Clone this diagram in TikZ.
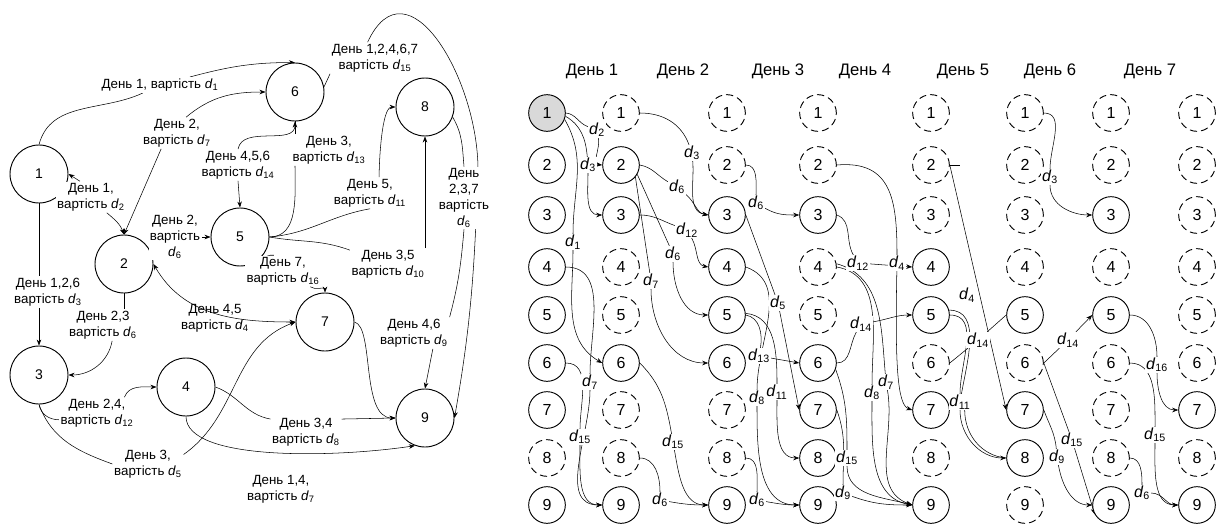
\documentclass[tikz,border=0pt]{standalone}
\usepackage{fontspec}
\setmainfont{Liberation Sans}
\usetikzlibrary{arrows.meta,backgrounds}
\newcommand\dd[1]{\textit{d}\textsubscript{#1}}
% nodes of the day graph that are drawn solid
\foreach \n in {11,12,13,14,15,16,17,19,22,23,26,29,33,34,35,36,39,43,46,47,48,49,54,55,57,59,65,67,68,73,75,79,87,89}
  {\expandafter\gdef\csname sol\n\endcsname{}}
\tikzset{
  vnode/.style={circle,draw,fill=white,minimum size=43.5pt,inner sep=0pt,font=\fontsize{10.5}{12}\selectfont},
  snode/.style={circle,draw,fill=white,minimum size=27.5pt,inner sep=0pt,font=\fontsize{12}{14}\selectfont},
  dnode/.style={snode,dash pattern=on 5pt off 3.5pt},
  pick/.code={\ifcsname sol#1\endcsname\pgfkeysalso{snode}\else\pgfkeysalso{dnode}\fi
    \ifnum#1=11 \pgfkeysalso{fill=gray!30}\fi},
  lab/.style={fill=white,align=center,inner sep=1pt,font=\fontsize{10}{12}\selectfont},
  dlab/.style={fill=white,inner sep=0.5pt,font=\fontsize{12}{14}\selectfont},
  day/.style={font=\fontsize{12.5}{14}\selectfont}
}

\begin{document}
\begin{tikzpicture}[x=0.75pt,y=0.75pt,line cap=round,line join=round,line width=0.7pt,
  >={Stealth[length=4.5pt,width=3.4pt]}]
  \useasboundingbox (0,0) rectangle (1224,-525);
  % left: graph of routes
  \node[vnode] (a1) at (39,-174) {1};
  \node[vnode] (a2) at (124,-264) {2};
  \node[vnode] (a3) at (39,-375) {3};
  \node[vnode] (a4) at (186,-387) {4};
  \node[vnode] (a5) at (240,-237) {5};
  \node[vnode] (a6) at (295,-92) {6};
  \node[vnode] (a7) at (325,-322) {7};
  \node[vnode] (a8) at (425,-107) {8};
  \node[vnode] (a9) at (425,-418) {9};
  \node[lab] (l16) at (160,-85) {День 1, вартість \dd{1}};
  \node[lab] (l26) at (177,-133) {День 2,\\вартість \dd{7}};
  \node[lab] (l12) at (91,-197) {День 1,\\вартість \dd{2}};
  \node[lab] (l13) at (48,-292) {День 1,2,6\\вартість \dd{3}};
  \node[lab] (l23) at (103,-325) {День 2,3\\вартість \dd{6}};
  \node[lab] (l25) at (175,-237) {День 2,\\вартість\\\dd{6}};
  \node[lab] (l56) at (238,-165) {День 4,5,6\\вартість \dd{14}};
  \node[lab] (l56b) at (329,-150) {День 3,\\вартість \dd{13}};
  \node[lab] (l58) at (370,-193) {День 5,\\вартість \dd{11}};
  \node[lab] (l58b) at (388,-264) {День 3,5\\вартість \dd{10}};
  \node[lab] (l57) at (283,-271) {День 7,\\вартість \dd{16}};
  \node[lab,fill=none] (l27) at (215,-318) {День 4,5\\вартість \dd{4}};
  \node[lab] (l34) at (97,-413) {День 2,4,\\вартість \dd{12}};
  \node[lab] (l37) at (148,-464) {День 3,\\вартість \dd{5}};
  \node[lab] (l49) at (306,-432) {День 3,4\\вартість \dd{8}};
  \node[lab] (l49b) at (281,-489) {День 1,4,\\вартість \dd{7}};
  \node[lab] (l69) at (375,-58) {День 1,2,4,6,7\\вартість \dd{15}};
  \node[lab] (l89) at (464,-198) {День\\2,3,7\\вартість\\\dd{6}};
  \node[lab] (l79) at (414,-333) {День 4,6\\вартість \dd{9}};
  \coordinate (k69) at (478,-170);
  % right: the same routes day by day
  \foreach \i/\x in {1/592,2/683,3/778,4/865,5/963,6/1050,7/1150}
    \node[day] (h\i) at (\x,-71) {День \i};
  \foreach \c/\x in {1/547,2/621,3/727,4/818,5/931,6/1025,7/1111,8/1197}
    \foreach \r/\y in {1/113,2/165,3/215,4/267,5/315,6/363,7/410,8/458,9/505}
      \node[pick=\c\r] (n\c\r) at (\x,-\y) {\r};
  \node[dlab] (e1a) at (597,-130) {\dd{2}};
  \node[dlab] (e1b) at (588,-165) {\dd{3}};
  \node[dlab] (e1c) at (573,-242) {\dd{1}};
  \node[dlab] (e1d) at (590,-382) {\dd{7}};
  \node[dlab] (e1e) at (580,-437) {\dd{15}};
  \node[dlab] (e2a) at (692,-153) {\dd{3}};
  \node[dlab] (e2b) at (677,-187) {\dd{6}};
  \node[dlab] (e2c) at (651,-281) {\dd{7}};
  \node[dlab] (e2d) at (673,-254) {\dd{6}};
  \node[dlab] (e2e) at (687,-230) {\dd{12}};
  \node[dlab] (e2f) at (673,-442) {\dd{15}};
  \node[dlab] (e2g) at (660,-500) {\dd{6}};
  \node[dlab] (e3a) at (756,-203) {\dd{6}};
  \node[dlab] (e3b) at (778,-303) {\dd{5}};
  \node[dlab] (e3c) at (759,-356) {\dd{13}};
  \node[dlab] (e3d) at (757,-398) {\dd{8}};
  \node[dlab] (e3e) at (777,-392) {\dd{11}};
  \node[dlab] (e3f) at (757,-500) {\dd{6}};
  \node[dlab] (e4a) at (897,-263) {\dd{4}};
  \node[dlab] (e4b) at (858,-263) {\dd{12}};
  \node[dlab] (e4c) at (872,-393) {\dd{8}};
  \node[dlab] (e4d) at (886,-382) {\dd{7}};
  \node[dlab] (e4e) at (861,-324) {\dd{14}};
  \node[dlab] (e4f) at (847,-458) {\dd{15}};
  \node[dlab] (e4g) at (843,-493) {\dd{9}};
  \node[dlab] (e5a) at (967,-295) {\dd{4}};
  \node[dlab] (e5b) at (978,-340) {\dd{14}};
  \node[dlab] (e5c) at (960,-402) {\dd{11}};
  \node[dlab] (e6a) at (1050,-177) {\dd{3}};
  \node[dlab] (e6b) at (1068,-340) {\dd{14}};
  \node[dlab] (e6c) at (1072,-440) {\dd{15}};
  \node[dlab] (e6d) at (1057,-457) {\dd{9}};
  \node[dlab] (e7a) at (1157,-365) {\dd{16}};
  \node[dlab] (e7b) at (1155,-435) {\dd{15}};
  \node[dlab] (e7c) at (1142,-493) {\dd{6}};

  \begin{scope}[on background layer]
    % left graph
    \draw (a1.north) to[out=75,in=205] (l16);
    \draw[->] (l16) to[out=15,in=180] (a6.north);
    \draw[->] (l26.60) to[out=40,in=180] (a6.west);
    \draw[->] (l26.-135) -- (a2.north);
    \draw[->] (l12.-45) to[out=-40,in=110] (a2.north);
    \draw[->] (l12.125) -- (a1.east);
    \draw (a1.south) -- (a1.south |- l13.north);
    \draw[->] (a3.north |- l13.south) -- (a3.north);
    \draw (a2.south) -- (a2.south |- l23.north);
    \draw[->] (l23.-60) to[out=-100,in=0] (a3.east);
    \draw[->] (l25) -- (a5.west);
    \draw[->] (l56.north) to[out=80,in=-90] (a6.south);
    \draw[->] (l56.south) -- (a5.north);
    \draw (a5.east) to[out=0,in=-90] (a6.south |- l56b.south);
    \draw (a6.south |- l56b.north) -- (a6.south);
    \draw (a5.east) to[out=5,in=190] (l58.south);
    \draw[->] (l58.60) to[out=90,in=180,looseness=0.5] (a8.west);
    \draw (a5.east) to[out=-10,in=160] (l58b);
    \draw[->] (a8.south |- l58b.north) -- (a8.south);
    \draw[->] (l57.120) to[out=170,in=-20] (a5.-80);
    \draw[->] (l57.-30) to[out=-40,in=90] (a7.north);
    \draw[<->] (a2.east) to[out=-60,in=180] (a7.west);
    \draw (a3.south) to[out=-80,in=180] (l34.190);
    \draw[->] (l34.30) to[out=70,in=180] (a4.west);
    \draw (a3.south) to[out=-70,in=160] (l37.west);
    \draw[->] (l37.15) to[out=35,in=200] (a7.west);
    \draw (a4.east) to[out=-20,in=170] (l49.160);
    \draw[->] (l49.20) -- (a9.west);
    \draw[->] (a4.south) .. controls +(0,-45) and +(-80,-12) .. (a9.-110);
    \draw[->] (a7.east) .. controls +(20,-5) and +(-35,0) .. (a9.west);
    \draw (a6.10) -- (l69.south west);
    \draw (l69.115) to[out=65,in=90,looseness=1.4] (k69);
    \draw[->] (k69) to[out=-92,in=80] (a9.east);
    \draw (a8.-20) to[out=-60,in=95] (l89.north);
    \draw (l89.south) to[out=-95,in=75] (l79.north east);
    \draw[->] (l79.-40) -- (a9.north);
    % day 1
    \draw (n11.east) to[out=-5,in=160] (e1a);
    \draw[->] (e1a) to[out=-80,in=175] (n22.west);
    \draw (n11.-10) to[out=-30,in=95] (e1b);
    \draw[->] (e1b) to[out=-90,in=180] (n23.west);
    \draw (n11.-20) to[out=-60,in=90] (e1c);
    \draw[->] (e1c) to[out=-90,in=150] (n26.west);
    \draw (n14.east) to[out=0,in=90] (e1d);
    \draw[->] (e1d) to[out=-90,in=180] (n29.west);
    \draw (n16.east) to[out=0,in=90] (e1e);
    \draw[->] (e1e) to[out=-90,in=180] (n29.west);
    % day 2
    \draw (n21.east) to[out=0,in=110] (e2a);
    \draw[->] (e2a) to[out=-85,in=170] (n33.west);
    \draw (n22.east) to[out=-10,in=150] (e2b);
    \draw[->] (e2b) to[out=-40,in=170] (n33.west);
    \draw (n22.-40) -- (e2c);
    \draw[->] (e2c) to[out=-90,in=180] (n36.west);
    \draw (n22.-30) -- (e2d);
    \draw[->] (e2d) to[out=-90,in=180] (n35.west);
    \draw (n23.east) to[out=0,in=160] (e2e);
    \draw[->] (e2e) to[out=-60,in=170] (n34.west);
    \draw (n26.east) to[out=-45,in=100] (e2f);
    \draw[->] (e2f) to[out=-80,in=180] (n39.west);
    \draw (n28.east) to[out=0,in=90] (e2g);
    \draw[->] (e2g) to[out=-10,in=180] (n39.west);
    % day 3
    \draw (n32.east) to[out=0,in=90] (e3a);
    \draw[->] (e3a) to[out=-30,in=180] (n43.west);
    \draw (n33.east) -- (e3b);
    \draw[->] (e3b) -- (n47.west);
    \draw (n34.east) to[out=-20,in=90] (e3d);
    \draw[->] (e3d) to[out=-90,in=180] (n49.west);
    \draw (n35.east) to[out=-10,in=80] (e3c);
    \draw[->] (e3c) -- (n46.west);
    \draw (n35.5) to[out=-5,in=90] (e3e);
    \draw[->] (e3e) to[out=-90,in=180] (n48.west);
    \draw (n38.east) to[out=0,in=90] (e3f);
    \draw[->] (e3f) to[out=-10,in=180] (n49.west);
    % day 4
    \draw (n42.east) to[out=5,in=90,looseness=1.3] (e4a);
    \draw[->] (e4a) .. controls +(-2,-100) and +(-15,5) .. (n57.west);
    \draw (n43.east) to[out=-20,in=120] (e4b);
    \draw[->] (e4b) -- (n54.west);
    \draw (n44.east) to[out=-10,in=90] (e4c);
    \draw (n44.10) to[out=-15,in=95] (e4d);
    \draw[->] (e4c) to[out=-90,in=170] (n59.west);
    \draw[->] (e4d) to[out=-80,in=160] (n59.west);
    \draw (n46.east) to[out=0,in=-120] (e4e);
    \draw[->] (e4e) to[out=10,in=180] (n55.west);
    \draw (n46.-20) to[out=-70,in=90] (e4f);
    \draw[->] (e4f) to[out=-90,in=165] (n59.west);
    \draw (n47.east) to[out=-70,in=90] (e4g);
    \draw[->] (e4g) to[out=-20,in=180] (n59.west);
    % day 5
    \draw (n52.east) -- ++(10,0);
    \draw[->] (n52.east) -- (n67.west);
    \draw (n56.east) -- (e5b);
    \draw (e5b) -- (n65.west);
    \draw (n55.east) to[out=0,in=90] (e5c);
    \draw (n55.15) to[out=0,in=80] (e5c);
    \draw[->] (e5c) to[out=-90,in=180] (n68.west);
    \draw (e5c.-60) to[out=-90,in=175] (n68.west);
    % day 6
    \draw (n61.east) to[out=0,in=90] (e6a);
    \draw[->] (e6a) to[out=-90,in=180] (n73.west);
    \draw (n66.east) -- (e6b);
    \draw[->] (e6b) -- (n75.west);
    \draw (n66.east) -- (e6c);
    \draw[->] (e6c) -- (n79.-150);
    \draw (n67.east) to[out=-70,in=95] (e6d);
    \draw[->] (e6d) to[out=-80,in=180] (n79.west);
    % day 7
    \draw (n75.east) to[out=0,in=90] (e7a);
    \draw[->] (e7a) to[out=-90,in=180] (n87.west);
    \draw (n76.east) to[out=0,in=90] (e7b);
    \draw[->] (e7b) to[out=-90,in=180] (n89.west);
    \draw (n78.east) to[out=0,in=90] (e7c);
    \draw[->] (e7c) to[out=0,in=180] (n89.west);
  \end{scope}
\end{tikzpicture}
\end{document}
